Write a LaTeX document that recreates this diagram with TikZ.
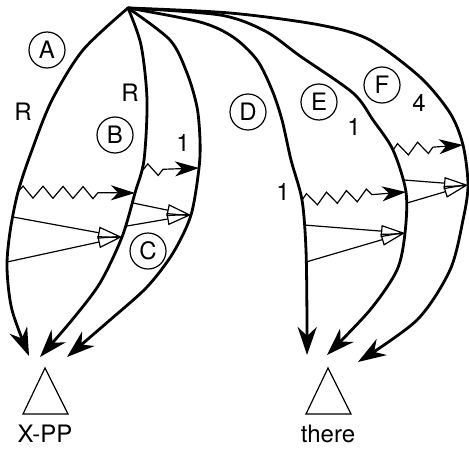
\documentclass[tikz,border=0pt]{standalone}
\usepackage{fontspec}
\setmainfont{TeX Gyre Heros}
\usetikzlibrary{arrows.meta,decorations.pathmorphing}
\begin{document}
\begin{tikzpicture}[x=0.5pt,y=-0.5pt,
  arc/.style={line width=1.4pt, line cap=round, -{Stealth[length=14pt,width=9.5pt,inset=4.5pt]}},
  zz/.style={line width=0.6pt, decorate,
    decoration={zigzag, segment length=10pt, amplitude=3pt, post length=15pt},
    -{Stealth[length=12pt,width=7.5pt,inset=3.5pt]}},
  hollow/.style={line width=0.6pt, -{Triangle[open,length=12pt,width=6pt]}},
  circ/.style={circle, draw, line width=0.6pt, minimum size=18pt, inner sep=0pt,
    font=\fontsize{12}{12}\selectfont},
  lbl/.style={inner sep=0pt, font=\fontsize{12}{14}\selectfont},
  tri/.style={line width=0.6pt, line join=miter}]
\useasboundingbox (0,0) rectangle (469,449);

% apex and arrow end points
\coordinate (top) at (128,8);
\coordinate (tA) at (29,356);
\coordinate (tB) at (40,357);
\coordinate (tC) at (67,357);
\coordinate (tD) at (307,355);
\coordinate (tE) at (327,355);
\coordinate (tF) at (358,362);

% points on the curves
\coordinate (a1) at (18,192);
\coordinate (a2) at (13,217);
\coordinate (a3) at (7,262);
\coordinate (b1) at (143,170);
\coordinate (b0) at (135,193);
\coordinate (b2) at (133,203);
\coordinate (b3) at (127,226);
\coordinate (b4) at (122,237);
\coordinate (c1) at (199,168);
\coordinate (c2) at (191,215);
\coordinate (d1) at (302,200);
\coordinate (d2) at (304,225);
\coordinate (d3) at (306,262);
\coordinate (e1) at (393,150);
\coordinate (e2) at (404,180);
\coordinate (e0) at (406,192);
\coordinate (e3) at (407,203);
\coordinate (e4) at (405,233);
\coordinate (f1) at (463,145);
\coordinate (f2) at (468,185);

% curves
\draw[arc] plot[smooth] coordinates {(top) (83,50) (52,100) (32,150) (a1) (10,232) (7,268) (12,310) (tA)};
\draw[arc] plot[smooth] coordinates {(top) (141,45) (147,100) (144,160) (b0) (b4) (100,283) (72,320) (tB)};
\draw[arc] plot[smooth] coordinates {(top) (170,40) (187,73) (197,107) (200,140) (c1) (c2) (173,253) (147,287) (110,320) (tC)};
\draw[arc] plot[smooth] coordinates {(top) (200,22) (233,37) (257,60) (272,90) (282,120) (291,160) (d1) (306,250) (307,320) (tD)};
\draw[arc] plot[smooth] coordinates {(top) (220,15) (265,31) (300,56) (353,93) (373,120) (e1) (e0) (e4) (397,270) (370,310) (tE)};
\draw[arc] plot[smooth] coordinates {(top) (230,13) (320,25) (370,40) (420,77) (450,113) (f1) (f2) (463,220) (450,270) (417,320) (tF)};

% zigzag arrows
\draw[zz] (a1) -- (b0);
\draw[zz] (b1) -- (c1);
\draw[zz] (d1) -- (e0);
\draw[zz] (e1) -- (f1);

% hollow arrows
\draw[hollow] (a2) -- (b4);
\draw[hollow] (a3) -- (b4);
\draw[hollow] (b2) -- (c2);
\draw[hollow] (b3) -- (c2);
\draw[hollow] (d2) -- (e4);
\draw[hollow] (d3) -- (e4);
\draw[hollow] (e2) -- (f2);
\draw[hollow] (e3) -- (f2);

% circled letters
\node[circ] (cA) at (47,50) {A};
\node[circ] (cB) at (115,135) {B};
\node[circ] (cC) at (148,251) {C};
\node[circ] (cD) at (248,112) {D};
\node[circ] (cE) at (319,102) {E};
\node[circ] (cF) at (382,85) {F};

% labels
\node[lbl] (l1) at (23,112) {R};
\node[lbl] (l2) at (130,93) {R};
\node[lbl] (l3) at (183,143) {1};
\node[lbl] (l4) at (283,192) {1};
\node[lbl] (l5) at (354,127) {1};
\node[lbl] (l6) at (419,103) {4};

% triangles and their labels
\draw[tri] (45,368) -- (23,414) -- (68,414) -- cycle;
\draw[tri] (328,368) -- (306,414) -- (351,414) -- cycle;
\node[lbl] (xpp) at (45,434) {X-PP};
\node[lbl] (there) at (328,434) {there};
\end{tikzpicture}
\end{document}
